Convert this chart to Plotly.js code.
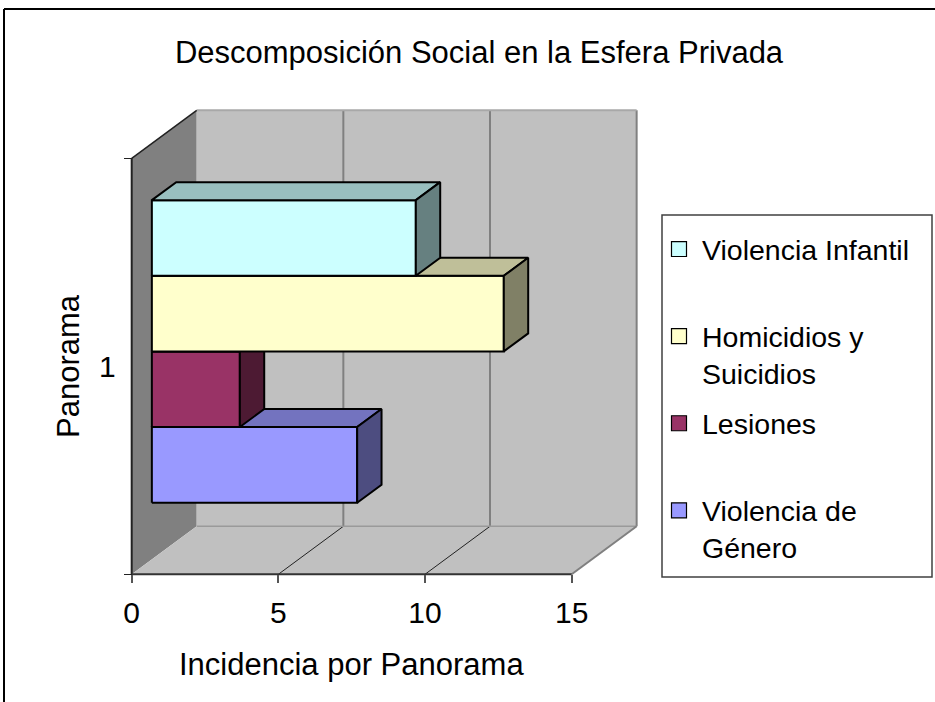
<!DOCTYPE html>
<html>
<head>
<meta charset="utf-8">
<script src="https://cdn.plot.ly/plotly-3.0.1.min.js"></script>
<style>html,body{margin:0;padding:0;background:#fff;}#chart{width:935px;height:702px;}</style>
</head>
<body>
<div id="chart"></div>
<script>
// ---- data ----
const categories = ['1'];
const seriesNames = ['Violencia Infantil', 'Homicidios y Suicidios', 'Lesiones', 'Violencia de Género'];
const legendLabels = ['Violencia Infantil<br>\u00a0', 'Homicidios y<br>Suicidios', 'Lesiones<br>\u00a0', 'Violencia de<br>Género'];
const seriesValues = [9, 12, 3, 7];
const frontColors = ['#CCFFFF', '#FFFFCC', '#993366', '#9999FF'];
const topColors   = ['#99BFBF', '#BFBF99', '#732650', '#7373BF'];
const sideColors  = ['#668080', '#808066', '#4D1A33', '#4D4D80'];
const xTicks = [0, 5, 10, 15];
const xMax = 15;

// ---- geometry (layout only) ----
const W = 935, H = 702;
const M = {l: 100, r: 285, t: 100, b: 112};
const PW = W - M.l - M.r, PH = H - M.t - M.b;
const OX = 131.7, OY = 574.3;         // pixel of value 0 at the front floor
const SX = 29.33;                      // px per value unit
const FRONT_H = 416;                   // px height of front category plane
const SLOTS = 5.5;                     // 4 bars + gap 150%
const SY = FRONT_H / SLOTS;            // px per slot unit
const DXu = 65 / SX, DYu = 48 / SY;    // full depth offset in data units
const D1 = 0.31, D2 = 0.685;           // bar depth span
const GAP = 0.75;

const px2x = p => (p - OX) / SX;
const py2y = p => (OY - p) / SY;
const ppx = p => (p - M.l) / PW;        // pixel -> paper
const ppy = p => (H - M.b - p) / PH;

function P(v, y, d) { return [v + d * DXu, y + d * DYu]; }
const traces = [];
function poly(pts, fill, lc, lw) {
  const c = pts.concat([pts[0]]);
  traces.push({type: 'scatter', mode: 'lines', x: c.map(p => p[0]), y: c.map(p => p[1]),
    fill: 'toself', fillcolor: fill, line: {color: lc, width: lw}, hoverinfo: 'skip', showlegend: false});
}
function seg(a, b, lc, lw) {
  traces.push({type: 'scatter', mode: 'lines', x: [a[0], b[0]], y: [a[1], b[1]],
    line: {color: lc, width: lw}, hoverinfo: 'skip', showlegend: false});
}

// walls
poly([P(0,0,0), P(0,SLOTS,0), P(0,SLOTS,1), P(0,0,1)], '#808080', 'rgba(0,0,0,0)', 0);
poly([P(0,0,0), P(xMax,0,0), P(xMax,0,1), P(0,0,1)], '#C0C0C0', 'rgba(0,0,0,0)', 0);
poly([P(0,0,1), P(xMax,0,1), P(xMax,SLOTS,1), P(0,SLOTS,1)], '#C0C0C0', 'rgba(0,0,0,0)', 0);
// wall lines
xTicks.filter(v => v > 0).forEach(v => {
  seg(P(v,0,1), P(v,SLOTS,1), '#808080', 2);
  if (v < xMax) seg(P(v,0,0), P(v,0,1), '#222', 1);
});
seg(P(0,SLOTS,1), P(xMax,SLOTS,1), '#A8A8A8', 2);
seg(P(0,0,1), P(xMax,0,1), '#9A9A9A', 1.5);
seg(P(xMax,0,0), P(xMax,0,1), '#808080', 2);
seg(P(0,SLOTS,0), P(0,SLOTS,1), '#222', 1.5);
seg(P(0,0,0), P(0,SLOTS,0), '#222', 2);
seg(P(0,0,0), P(xMax,0,0), '#333', 2);

// bars: bottom series drawn first
for (let k = seriesValues.length - 1; k >= 0; k--) {
  const v = seriesValues[k];
  const idxFromBottom = seriesValues.length - 1 - k;
  const y0 = GAP + idxFromBottom, y1 = y0 + 1;
  poly([P(0,y0,D1), P(v,y0,D1), P(v,y1,D1), P(0,y1,D1)], frontColors[k], '#000', 2);
  poly([P(0,y1,D1), P(v,y1,D1), P(v,y1,D2), P(0,y1,D2)], topColors[k], '#000', 2);
  poly([P(v,y0,D1), P(v,y0,D2), P(v,y1,D2), P(v,y1,D1)], sideColors[k], '#000', 2);
}

// legend entries
seriesNames.forEach((n, k) => {
  traces.push({type: 'scatter', mode: 'markers', x: [null], y: [null], name: legendLabels[k],
    legendgroup: 'g' + k, marker: {symbol: 'square', size: 15, color: frontColors[k], line: {color: '#000', width: 1.2}},
    hoverinfo: 'skip'});
});

const font = 'Liberation Sans, Arial, sans-serif';
const layout = {
  width: W, height: H,
  margin: M,
  paper_bgcolor: '#fff', plot_bgcolor: 'rgba(0,0,0,0)',
  font: {family: font, color: '#000', size: 29},
  showlegend: true,
  title: {text: 'Descomposición Social en la Esfera Privada', font: {size: 31, family: font},
    xref: 'container', yref: 'container', x: 479 / W, xanchor: 'center', y: 1 - 52 / H, yanchor: 'middle'},
  xaxis: {range: [px2x(M.l), px2x(W - M.r)], anchor: 'free', position: (H - M.b - OY) / PH,
    tickmode: 'array', tickvals: xTicks, ticktext: xTicks.map(String), ticks: 'outside', ticklen: 8,
    tickwidth: 2, tickcolor: '#555', showgrid: false, zeroline: false, showline: false,
    ticklabelstandoff: 4, tickfont: {size: 30}, fixedrange: true},
  yaxis: {range: [py2y(H - M.b), py2y(M.t)], anchor: 'free', position: (OX - M.l) / PW,
    tickmode: 'array', tickvals: [SLOTS / 2], ticktext: categories, ticks: 'outside', ticklen: 10,
    tickcolor: 'rgba(0,0,0,0)', showgrid: false, zeroline: false, showline: false,
    minor: {tickmode: 'array', tickvals: [0, SLOTS], ticks: 'outside', ticklen: 8, tickwidth: 1.5, tickcolor: '#222', showgrid: false},
    tickfont: {size: 30}, fixedrange: true},
  legend: {x: ppx(656), y: ppy(224), xanchor: 'left', yanchor: 'top', bgcolor: 'rgba(0,0,0,0)',
    borderwidth: 0, font: {size: 28.5}, valign: 'top', tracegroupgap: 10, traceorder: 'grouped', itemwidth: 36},
  annotations: [
    {text: 'Incidencia por Panorama', xref: 'paper', yref: 'paper', x: ppx(351), y: ppy(664),
      xanchor: 'center', yanchor: 'middle', showarrow: false, font: {size: 31}},
    {text: 'Panorama', xref: 'paper', yref: 'paper', x: ppx(68), y: ppy(366), textangle: -90,
      xanchor: 'center', yanchor: 'middle', showarrow: false, font: {size: 31}}
  ],
  shapes: [
    {type: 'line', xref: 'paper', yref: 'paper', x0: ppx(4), x1: ppx(4), y0: ppy(9), y1: ppy(720), line: {color: '#000', width: 2}},
    {type: 'line', xref: 'paper', yref: 'paper', x0: ppx(4), x1: ppx(950), y0: ppy(9), y1: ppy(9), line: {color: '#000', width: 2}},
    {type: 'rect', xref: 'paper', yref: 'paper', x0: ppx(662), x1: ppx(932), y0: ppy(577), y1: ppy(215), line: {color: '#404040', width: 1.5}}
  ]
};
Plotly.newPlot('chart', traces, layout, {displayModeBar: false, staticPlot: true});
</script>
</body>
</html>
